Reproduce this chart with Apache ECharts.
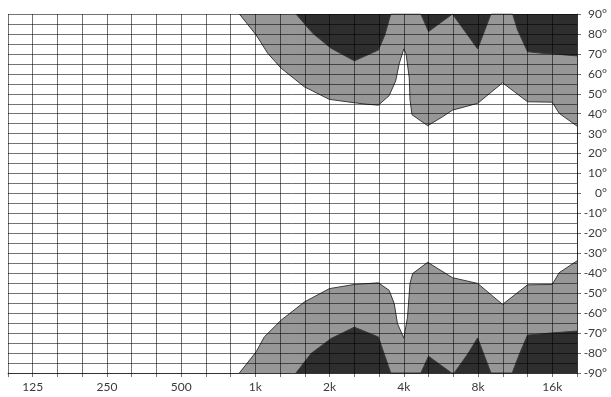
<!DOCTYPE html>
<html>
<head>
<meta charset="utf-8">
<script src="https://cdn.jsdelivr.net/npm/echarts@6/dist/echarts.min.js"></script>
<style>
  html, body { margin: 0; padding: 0; background: #fff; }
  #chart { width: 611px; height: 397px; }
</style>
</head>
<body>
<div id="chart"></div>
<script>
// Directivity map: off-axis angle (deg) vs frequency (Hz).
// Grey = first contour, dark = second contour; upper and lower halves.

// Frequency-axis tick labels (Hz and text)
const labelFreqs = [125, 250, 500, 1000, 2000, 4000, 8000, 16000];
const labelTexts = ['125', '250', '500', '1k', '2k', '4k', '8k', '16k'];

// Upper half, grey contour boundary
const topGreyFreq = [861, 1007, 1122, 1272, 1580, 1995, 2520, 2810, 3153, 3485, 3708, 3829, 4000, 4084, 4209, 4238, 4317, 5000, 5747, 6300, 7969, 10060, 12700, 16000, 17070, 20159];
const topGreyDeg  = [90, 79.5, 70.3, 62.8, 53.5, 47.2, 45.5, 44.8, 44.3, 49, 56.5, 65, 72.5, 70, 58, 47, 39.5, 34, 38.5, 41.8, 45.2, 55.5, 46, 45.8, 40.2, 33.8];

// Upper half, dark contour boundary
const topDarkFreq = [1461, 1709, 2028, 2520, 3153, 3350, 3541, 4688, 5040, 6300, 6402, 7969, 9027, 11050, 11570, 12700, 14580, 16000, 20159];
const topDarkDeg  = [90, 80.3, 72.8, 66.5, 71.9, 79.5, 90, 90, 81.2, 90, 90, 72.5, 90, 90, 82, 71.1, 70.3, 70, 69];

// Lower half, grey contour boundary
const botGreyFreq = [861, 1007, 1087, 1272, 1580, 1995, 2520, 3153, 3485, 3657, 3768, 4000, 4141, 4238, 4347, 5000, 6300, 7969, 10060, 12700, 16000, 17070, 20159];
const botGreyDeg  = [-90, -79.4, -71.9, -63.5, -54.4, -47.7, -45.6, -44.8, -48.5, -55.2, -65.2, -72.5, -62, -45, -40.1, -34.5, -42.2, -45.1, -55.6, -45.8, -45.6, -39.7, -33.8];

// Lower half, dark contour boundary
const botDarkFreq = [1461, 1682, 2028, 2520, 3153, 3541, 4688, 5040, 6250, 6402, 7264, 7969, 9027, 11000, 11800, 12700, 16000, 20159];
const botDarkDeg  = [-90, -80.2, -72.7, -67, -71.9, -90, -90, -81.6, -90, -90, -80.5, -72.4, -90, -90, -80.2, -71, -69.9, -69];

// Frequency -> third-octave band index (0 = 1 kHz)
const toBand = f => 3 * Math.log2(f / 1000);
const pairs = (fs, ds) => fs.map((f, i) => [toBand(f), ds[i]]);

const GREY = '#979797';
const DARK = '#2e2e2e';
const EDGE = '#3a3a3a';
const GRID = 'rgba(0,0,0,0.55)';
const FONT = 'Lato';

const bandLabel = {};
labelFreqs.forEach((f, i) => { bandLabel[Math.round(toBand(f))] = labelTexts[i]; });

function contour(name, fs, ds, color, origin, z) {
  return {
    name, type: 'line', data: pairs(fs, ds), z,
    showSymbol: false, symbol: 'none', smooth: false, animation: false,
    lineStyle: { color: EDGE, width: 1 },
    areaStyle: { color, opacity: 1, origin }
  };
}

const chart = echarts.init(document.getElementById('chart'), null, { renderer: 'canvas' });
chart.setOption({
  animation: false,
  backgroundColor: '#ffffff',
  grid: { left: 8, right: 34, top: 14, bottom: 24, containLabel: false },
  xAxis: {
    type: 'value', min: -10, max: 13, interval: 1, z: 10,
    axisLine: { show: true, onZero: false, lineStyle: { color: GRID, width: 1 } },
    axisTick: { show: true, inside: false, length: 4, lineStyle: { color: GRID } },
    splitLine: { show: true, lineStyle: { color: GRID, width: 1 } },
    axisLabel: {
      margin: 8, color: '#3a3a3a', fontFamily: FONT, fontSize: 12,
      formatter: v => bandLabel[Math.round(v)] || ''
    }
  },
  yAxis: {
    type: 'value', position: 'right', min: -90, max: 90, interval: 10, z: 10,
    axisLine: { show: true, onZero: false, lineStyle: { color: GRID, width: 1 } },
    axisTick: { show: true, inside: false, length: 4, lineStyle: { color: GRID } },
    minorTick: { show: false, splitNumber: 2 },
    splitLine: { show: true, lineStyle: { color: GRID, width: 1 } },
    minorSplitLine: { show: true, lineStyle: { color: GRID, width: 1 } },
    axisLabel: {
      margin: 30, align: 'right', color: '#3a3a3a', fontFamily: FONT, fontSize: 12,
      formatter: v => v + '°'
    }
  },
  series: [
    contour('upper grey', topGreyFreq, topGreyDeg, GREY, 'end', 2),
    contour('upper dark', topDarkFreq, topDarkDeg, DARK, 'end', 3),
    contour('lower grey', botGreyFreq, botGreyDeg, GREY, 'start', 2),
    contour('lower dark', botDarkFreq, botDarkDeg, DARK, 'start', 3)
  ]
});
</script>
</body>
</html>
